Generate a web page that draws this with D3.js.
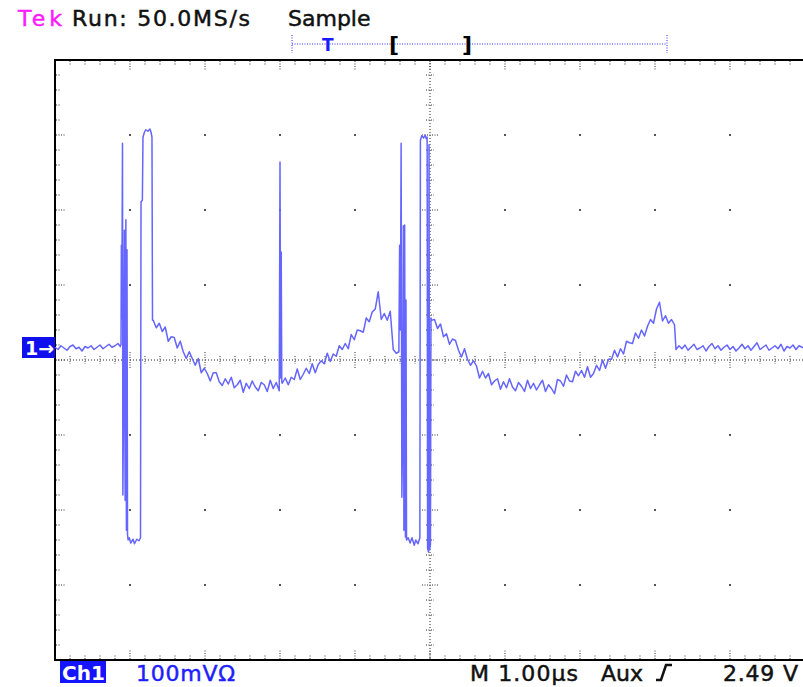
<!DOCTYPE html>
<html>
<head>
<meta charset="utf-8">
<script src="https://cdn.jsdelivr.net/npm/d3@7"></script>
<style>
  body { margin: 0; background: #fff; }
  svg { display: block; font-family: "DejaVu Sans", Verdana, sans-serif; }
</style>
</head>
<body>
<svg id="scope" width="803" height="687"></svg>
<script>
// CH1 trace: time in µs from left edge of screen, level in mV relative to ch1 ground
var sampleStep = 0.04;

var leadStart = 0;
var lead = [1, -2, 3, 0, -3, 2, 4, -1, 1, -4, 2, 0, 3, -2, 1, 4, -1, 2, 5, 1, 3, 6];

var burst1 = [
  [0.87, 2], [0.88, 5], [0.885, 137], [0.89, 40], [0.90, 273], [0.905, -196], [0.915, -70],
  [0.925, 157], [0.935, -203], [0.945, 171], [0.952, -243], [0.96, 131], [0.967, -249],
  [0.975, -256], [0.99, -253], [1.01, -260], [1.04, -255], [1.06, -261], [1.09, -255],
  [1.12, -257], [1.14, -253], [1.147, 195], [1.165, 197], [1.173, 281], [1.19, 287],
  [1.21, 291], [1.24, 289], [1.265, 292], [1.28, 288], [1.293, 281], [1.30, 37]
];

var decay1Start = 1.31;
var decay1 = [37, 27, 33, 22, 28, 9, 15, 14, 0, 9, -5, -14, -5, -14, -23, -14, -33, -27, -34, -44,
  -33, -33, -45, -50, -41, -48, -39, -53, -49, -43, -59, -47, -54, -44, -52, -57, -46, -49, -58, -43,
  -54, -46, -57, -47, -40, -49, -39, -42, -28, -42, -35, -27, -34, -21, -33, -22, -17, -21, -7, -18,
  -8, -11, 3, -2, 6, -1, 18, 11, 24, 23, 21, 40, 35, 48, 52, 75, 38, 46, 37, 49, -2, -7];

var glitch1 = [[3.00, 248], [3.008, -40], [3.016, 128], [3.024, -45]];

var burst2 = [
  [4.585, -5], [4.595, 137], [4.605, 24], [4.615, 273], [4.625, -199], [4.637, -96], [4.645, 163],
  [4.652, -243], [4.662, 164], [4.672, -252], [4.68, 64], [4.687, -256], [4.71, -253], [4.735, -260],
  [4.76, -253], [4.79, -263], [4.81, -256], [4.84, -261], [4.865, -253], [4.872, 277], [4.89, 283],
  [4.915, 280], [4.935, 284], [4.95, 279], [4.962, 281], [4.968, -267], [4.98, -272], [4.987, 271],
  [4.994, -269], [5.006, -262], [5.013, 40]
];

var decay2Start = 5.02;
var decay2 = [37, 38, 26, 32, 15, 19, 5, 12, 10, -3, -12, -1, -15, -23, -17, -24, -40, -31, -40, -34,
  -49, -44, -41, -55, -45, -53, -41, -52, -57, -46, -51, -58, -43, -54, -47, -56, -49, -43, -58, -49,
  -54, -61, -42, -44, -51, -36, -44, -45, -31, -37, -30, -39, -25, -39, -34, -23, -30, -16, -27, -15,
  -15, -3, -12, -1, -8, 9, 7, 6, 20, 13, 24, 16, 29, 38, 33, 52, 61, 36, 43, 33, 38, 31];

var tailStart = 8.28;
var tail = [-2, 3, -1, 4, -3, 1, 5, -2, 0, 3, -4, 2, 6, -1, 3, -3, 1, 4, -2, 2, -4, 0, 5, -1, 3, -3,
  2, 7, -2, 1, 4, -3, 0, 3, -1, 5, -4, 2, 0, 4, -2, 3, 1, -1];

// screen readouts
var header = [
  { text: "Tek", x: 18, w: 44, color: "#ff1aff" },
  { text: "Run: 50.0MS/s", x: 72, w: 178, color: "#111" },
  { text: "Sample", x: 288, w: 0, color: "#111" }
];
var footer = [
  { text: "100mVΩ", x: 136, w: 99, color: "#1f1fff" },
  { text: "M 1.00µs", x: 470, w: 108, color: "#111" },
  { text: "Aux", x: 601, w: 0, color: "#111" },
  { text: "2.49 V", x: 723, w: 75, color: "#111" }
];

function sampled(start, vals) {
  return vals.map(function(v, i) { return [start + i * sampleStep, v]; });
}

var trace = [].concat(
  sampled(leadStart, lead), burst1, sampled(decay1Start, decay1), glitch1,
  burst2, sampled(decay2Start, decay2), sampled(tailStart, tail)
).sort(function(a, b) { return a[0] - b[0]; });

var svg = d3.select("#scope");

// 10 div x 1 µs, 8 div x 100 mV, ground offset 0.16 div above centre
var x = d3.scaleLinear().domain([0, 10]).range([55, 805]);
var y = d3.scaleLinear().domain([-416, 384]).range([660, 60]);

var divX = d3.range(0, 10.001, 1);
var divY = d3.range(-416, 384.1, 100);
var minorX = d3.range(0, 10.001, 0.2);
var minorY = d3.range(-416, 384.1, 20);
var midX = x(5), midY = y(-16);
var isMajor = function(v, step) { return Math.abs(Math.round(v / step) * step - v) < 1e-6; };

var grid = svg.append("g").attr("id", "graticule");

// dots at division crossings
divX.slice(1, -1).forEach(function(dx) {
  divY.slice(1, -1).forEach(function(dy) {
    if (Math.abs(x(dx) - midX) < 1 || Math.abs(y(dy) - midY) < 1) return;
    grid.append("rect")
      .attr("x", x(dx) - 1).attr("y", y(dy) - 1)
      .attr("width", 2).attr("height", 2)
      .attr("fill", "#555");
  });
});

// border ticks
minorX.forEach(function(t) {
  var len = isMajor(t, 1) ? 9 : 5;
  grid.append("line").attr("x1", x(t)).attr("x2", x(t)).attr("y1", 61).attr("y2", 61 + len)
    .attr("stroke", "#333").attr("stroke-dasharray", "1,1.5");
  grid.append("line").attr("x1", x(t)).attr("x2", x(t)).attr("y1", 659).attr("y2", 659 - len)
    .attr("stroke", "#333").attr("stroke-dasharray", "1,1.5");
});
minorY.forEach(function(v) {
  var len = isMajor(v + 16, 100) ? 9 : 5;
  grid.append("line").attr("y1", y(v)).attr("y2", y(v)).attr("x1", 56).attr("x2", 56 + len)
    .attr("stroke", "#333").attr("stroke-dasharray", "1,1.5");
});

// centre axes with cross ticks
grid.append("line").attr("x1", midX).attr("x2", midX).attr("y1", 60).attr("y2", 660)
  .attr("stroke", "#222").attr("stroke-dasharray", "1,2");
grid.append("line").attr("x1", 55).attr("x2", 803).attr("y1", midY).attr("y2", midY)
  .attr("stroke", "#222").attr("stroke-dasharray", "1,2");
minorY.forEach(function(v) {
  var w = isMajor(v + 16, 100) ? 8 : 4;
  grid.append("line").attr("y1", y(v)).attr("y2", y(v)).attr("x1", midX - w).attr("x2", midX + w)
    .attr("stroke", "#333").attr("stroke-dasharray", "1,1.5");
});
minorX.forEach(function(t) {
  var w = isMajor(t, 1) ? 8 : 4;
  grid.append("line").attr("x1", x(t)).attr("x2", x(t)).attr("y1", midY - w).attr("y2", midY + w)
    .attr("stroke", "#333").attr("stroke-dasharray", "1,1.5");
});

// frame (right side runs off screen)
grid.append("path")
  .attr("d", "M803,60H55V660H803")
  .attr("fill", "none").attr("stroke", "#000").attr("stroke-width", 2);

// waveform
var line = d3.line().x(function(d) { return x(d[0]); }).y(function(d) { return y(d[1]); });
svg.append("path")
  .datum(trace)
  .attr("d", line)
  .attr("fill", "none")
  .attr("stroke", "#6565ff")
  .attr("stroke-width", 1.5)
  .attr("stroke-linejoin", "round");

// ground marker
svg.append("rect").attr("x", 22).attr("y", y(0) - 11).attr("width", 33).attr("height", 21)
  .attr("fill", "#1010ee");
svg.append("text").attr("x", 25).attr("y", y(0) + 7).text("1→")
  .attr("fill", "#fff").attr("font-size", 19).attr("font-weight", "bold");

function readout(sel) {
  sel.attr("x", function(d) { return d.x; })
    .attr("font-size", 22)
    .attr("fill", function(d) { return d.color; })
    .attr("stroke", function(d) { return d.color; })
    .attr("stroke-width", 0.5)
    .text(function(d) { return d.text; })
    .each(function(d) {
      if (d.w) d3.select(this).attr("textLength", d.w).attr("lengthAdjust", "spacing");
    });
}

// header
svg.selectAll("text.hdr").data(header).enter().append("text")
  .attr("class", "hdr").attr("y", 26).call(readout);

// trigger position / record bar
var bar = svg.append("g");
bar.append("line").attr("x1", 292).attr("x2", 667).attr("y1", 44).attr("y2", 44)
  .attr("stroke", "#2a2aff").attr("stroke-dasharray", "1,1.5");
[292, 667].forEach(function(px) {
  bar.append("line").attr("x1", px).attr("x2", px).attr("y1", 35).attr("y2", 53)
    .attr("stroke", "#2a2aff").attr("stroke-dasharray", "1,1.5");
});
bar.append("text").attr("x", 322).attr("y", 51).text("T")
  .attr("fill", "#1a1aff").attr("font-size", 17).attr("font-weight", "bold");
bar.append("text").attr("x", 389).attr("y", 52).text("[")
  .attr("fill", "#000").attr("font-size", 22).attr("font-weight", "bold");
bar.append("text").attr("x", 462).attr("y", 52).text("]")
  .attr("fill", "#000").attr("font-size", 22).attr("font-weight", "bold");

// footer
svg.append("rect").attr("x", 60).attr("y", 661).attr("width", 46).attr("height", 22).attr("fill", "#1414ff");
svg.append("text").attr("x", 62).attr("y", 680).text("Ch1")
  .attr("fill", "#fff").attr("font-size", 20).attr("font-weight", "bold");
svg.selectAll("text.ftr").data(footer).enter().append("text")
  .attr("class", "ftr").attr("y", 681).call(readout);
// rising-edge trigger symbol
svg.append("path").attr("d", "M656,680H661L666,665H672")
  .attr("fill", "none").attr("stroke", "#111").attr("stroke-width", 2.5);
</script>
</body>
</html>
